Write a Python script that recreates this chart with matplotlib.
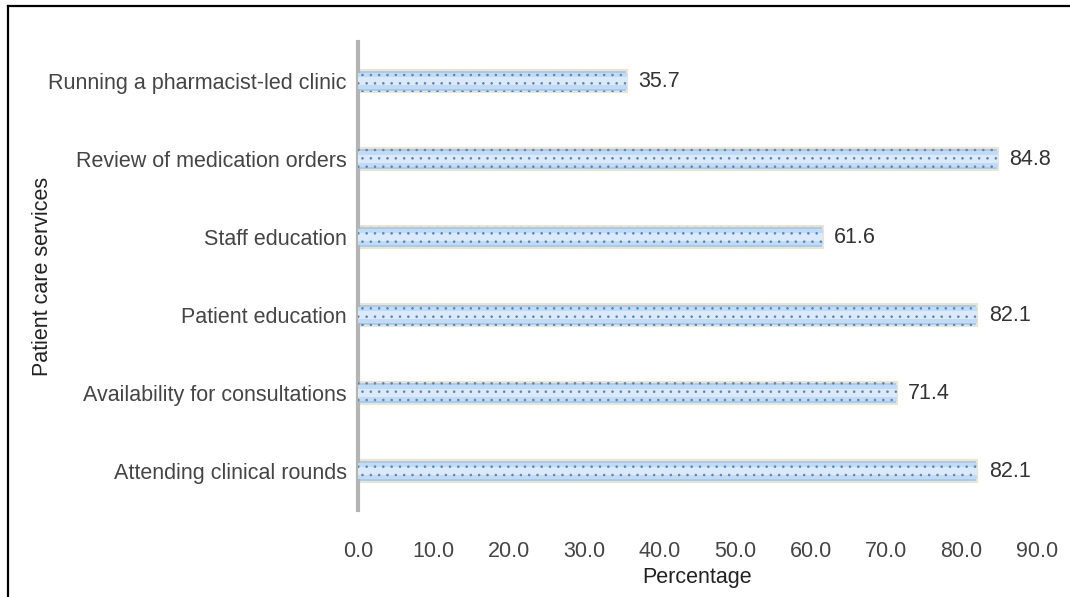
import matplotlib.pyplot as plt
from matplotlib.lines import Line2D

services = ["Attending clinical rounds", "Availability for consultations",
            "Patient education", "Staff education",
            "Review of medication orders", "Running a pharmacist-led clinic"]
percent = [82.1, 71.4, 82.1, 61.6, 84.8, 35.7]
xticks = [0, 10, 20, 30, 40, 50, 60, 70, 80, 90]

plt.rcParams['font.family'] = ['Liberation Sans', 'DejaVu Sans']
plt.rcParams['hatch.linewidth'] = 0.6

fig = plt.figure(figsize=(10.7, 5.97), dpi=100)
ax = fig.add_axes([0.3346, 0.1457, 0.6346, 0.7839])

ypos = range(len(services))
h = 0.28
fs = 15.5
# base bar with pale edge
ax.barh(ypos, percent, height=h, color='#a6cbee', edgecolor='#ece4cf', linewidth=1.5, zorder=2)
# lighter strips to hint the gradient
ax.barh(ypos, percent, height=h * 0.7, color='#c2dbf4', linewidth=0, zorder=3)
ax.barh(ypos, percent, height=h * 0.35, color='#dbe9f8', linewidth=0, zorder=3)
# dotted pattern
ax.barh(ypos, percent, height=h, facecolor='none', edgecolor='#5585bd', hatch='..', linewidth=0, zorder=4)

for y, v in zip(ypos, percent):
    ax.text(v + 1.5, y, f"{v:.1f}", va='center', ha='left', fontsize=fs, color='#333333')

ax.set_xlim(0, 90)
ax.set_ylim(-0.5, len(services) - 0.5)
ax.set_xticks(xticks)
ax.set_xticklabels([f"{t:.1f}" for t in xticks])
ax.set_yticks(list(ypos))
ax.set_yticklabels(services)
ax.tick_params(length=0, labelsize=fs, labelcolor='#454545')
ax.tick_params(axis='x', pad=22)
ax.tick_params(axis='y', pad=8)

for s in ['top', 'right', 'bottom']:
    ax.spines[s].set_visible(False)
ax.spines['left'].set_color('#b4b4b4')
ax.spines['left'].set_linewidth(3)

ax.set_xlabel("Percentage", fontsize=fs, color='#222222', labelpad=4)
ax.set_ylabel("Patient care services", fontsize=fs, color='#222222', labelpad=-3)

# outer frame
fig.add_artist(Line2D([8 / 1070, 8 / 1070], [0, 1 - 6 / 597], transform=fig.transFigure, color='black', lw=1.6))
fig.add_artist(Line2D([8 / 1070, 1], [1 - 6 / 597, 1 - 6 / 597], transform=fig.transFigure, color='black', lw=1.6))

fig.savefig("out.png", dpi=100)
